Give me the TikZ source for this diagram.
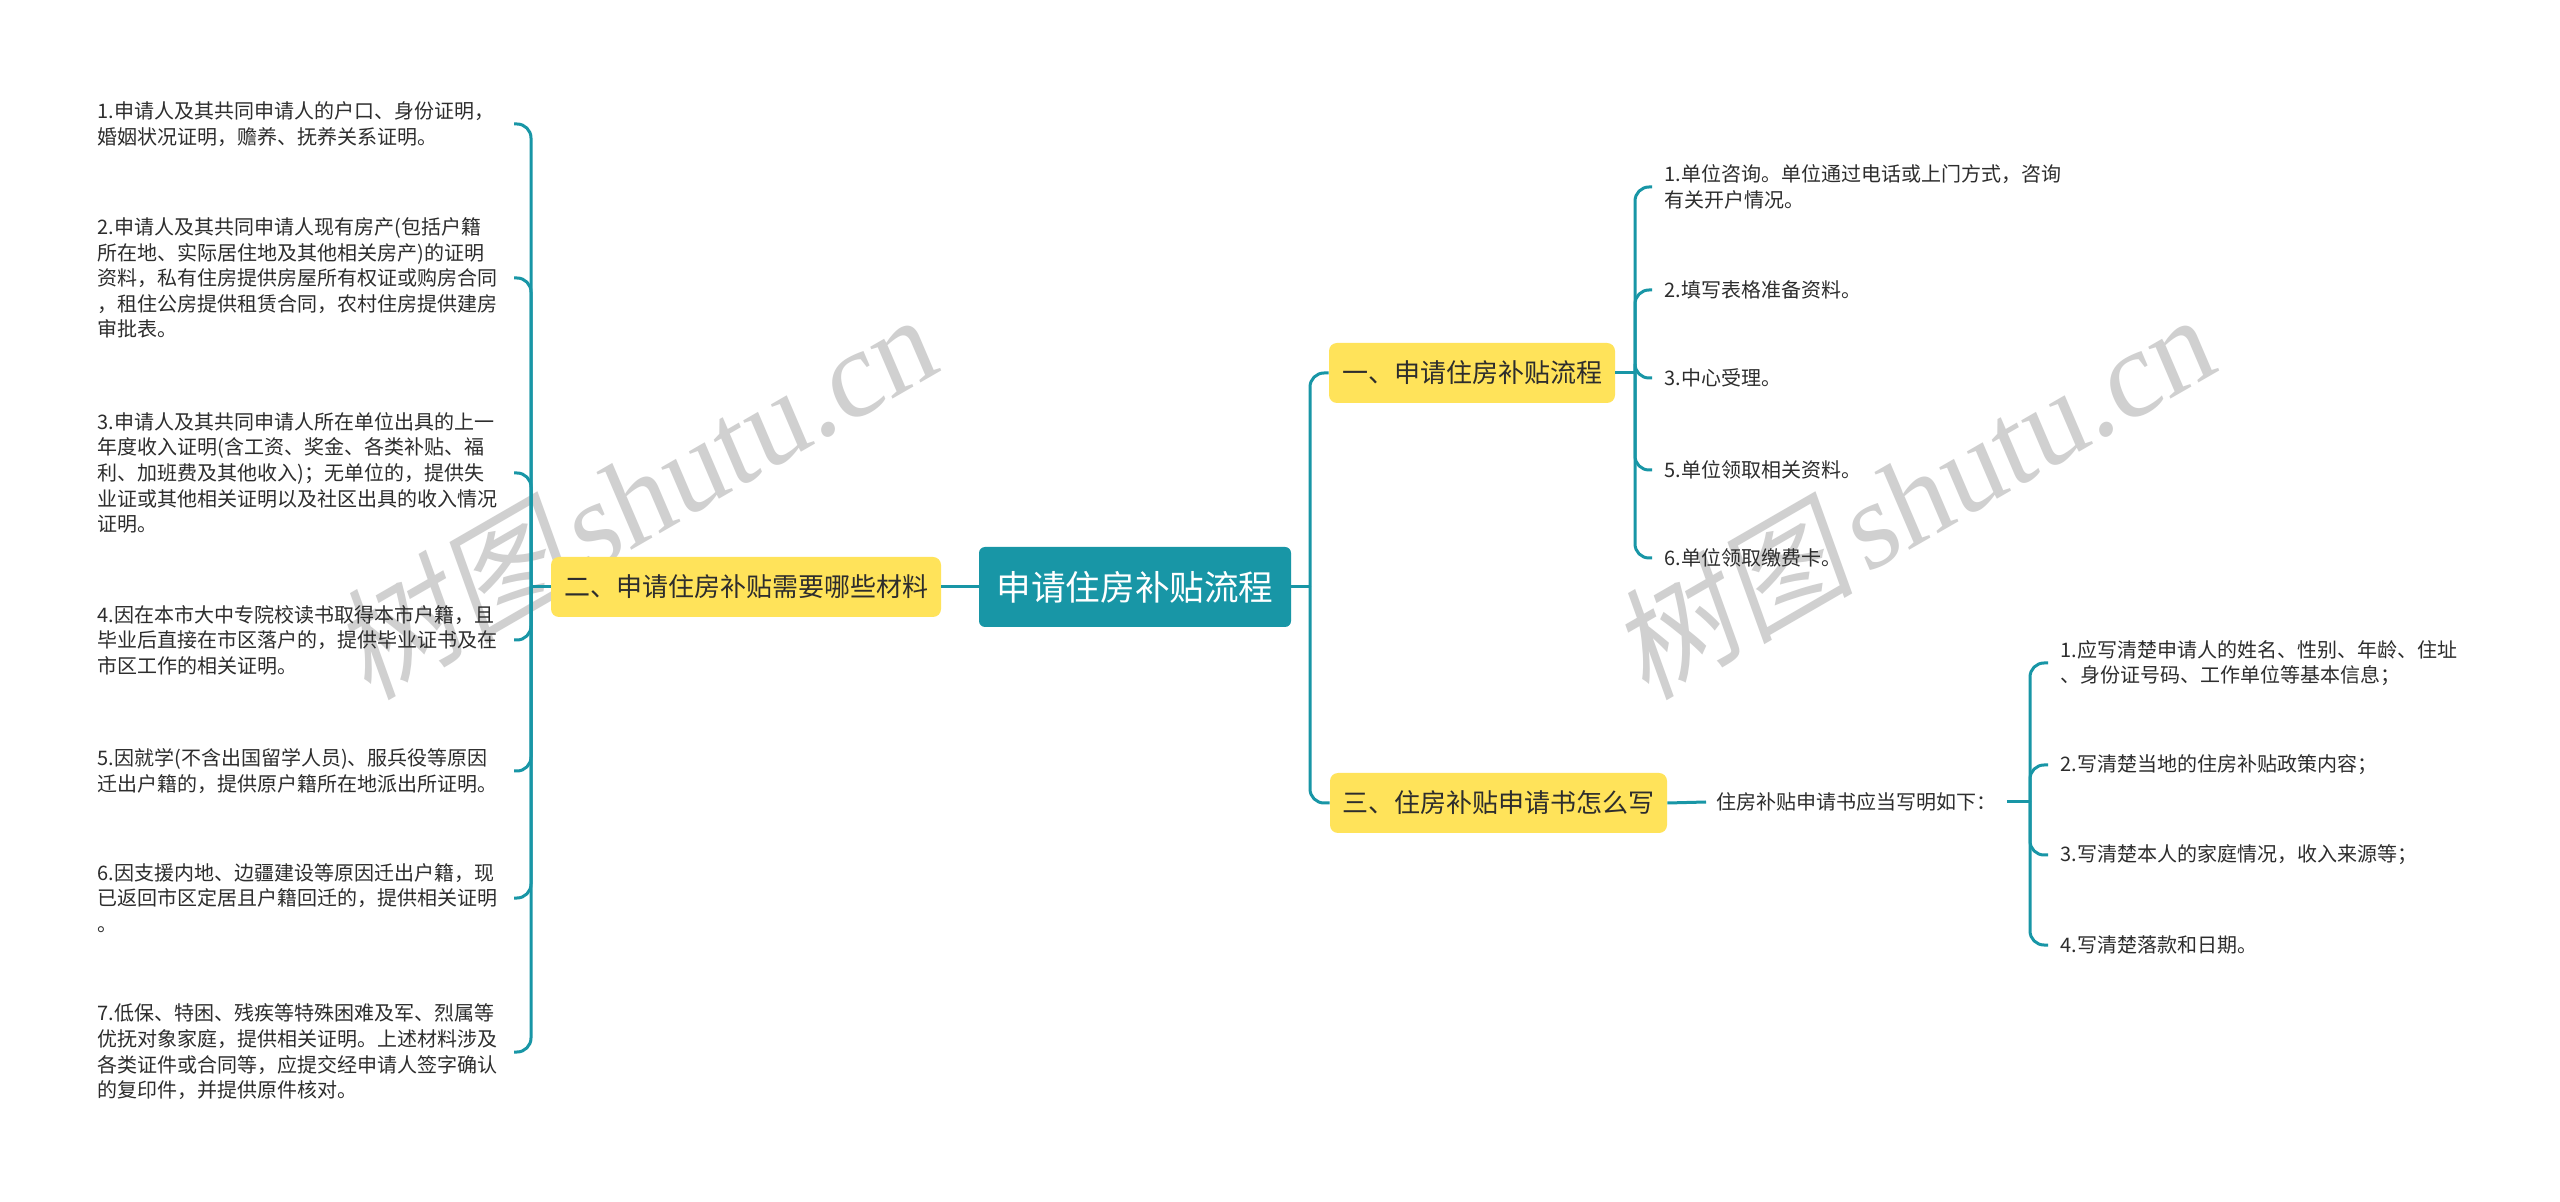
\documentclass[tikz,border=0pt]{standalone}
\usepackage{fontspec}
\setmainfont{Noto Sans CJK SC}
\newfontfamily\wmcjk[FakeSlant=0.18]{Noto Sans CJK SC}
\newfontfamily\wmserif[FakeSlant=0.12]{Liberation Serif}
\definecolor{teal1}{RGB}{24,150,166}
\definecolor{yel}{RGB}{255,227,90}
\definecolor{wmgray}{RGB}{208,208,208}
\definecolor{txt}{RGB}{45,45,45}
\tikzset{
  rootbox/.style={fill=teal1, rounded corners=3pt, text=white, inner sep=0pt,
    minimum width=156pt, minimum height=40pt, font=\fontsize{17.3pt}{20pt}\selectfont},
  branchbox/.style={fill=yel, rounded corners=4pt, text=txt, inner sep=0pt,
    minimum height=30pt, font=\fontsize{13pt}{16pt}\selectfont},
  leafL/.style={text=txt, align=left, text width=203pt, inner xsep=5pt, inner ysep=0pt,
    anchor=east, font=\fontsize{10pt}{12.8pt}\selectfont},
  leafR/.style={text=txt, align=left, inner xsep=6pt, inner ysep=0pt,
    anchor=west, font=\fontsize{10pt}{12.8pt}\selectfont},
  conn/.style={draw=teal1, line width=1.5pt},
  elbow/.style={conn, rounded corners=7pt},
  wm/.style={text=wmgray, inner sep=0pt, rotate=30, anchor=base west,
    font=\fontsize{61pt}{61pt}\selectfont}
}
\begin{document}
\begin{tikzpicture}[x=0.5pt, y=-0.5pt]
\useasboundingbox (0,0) rectangle (2560,1202);
\fill[white] (0,0) rectangle (2560,1202);

% watermarks
\node[wm] (wmA) at (368,702) {{\wmcjk 树图}\kern0.08em{\wmserif shutu.cn}};
\node[wm] (wmB) at (1646,702) {{\wmcjk 树图}\kern0.08em{\wmserif shutu.cn}};

% main nodes
\node[rootbox] (root) at (1135,587) {申请住房补贴流程};
\node[branchbox, minimum width=195pt] (L) at (746,587) {二、申请住房补贴需要哪些材料};
\node[branchbox, minimum width=143pt] (R1) at (1472,373) {一、申请住房补贴流程};
\node[branchbox, minimum width=168.5pt] (R3) at (1498.5,803) {三、住房补贴申请书怎么写};

% left leaves
\node[leafL] (l1) at (514,124) {1.申请人及其共同申请人的户口、身份证明，\\婚姻状况证明，赡养、抚养关系证明。};
\node[leafL] (l2) at (514,278) {2.申请人及其共同申请人现有房产(包括户籍\\所在地、实际居住地及其他相关房产)的证明\\资料，私有住房提供房屋所有权证或购房合同\\，租住公房提供租赁合同，农村住房提供建房\\审批表。};
\node[leafL] (l3) at (514,473) {3.申请人及其共同申请人所在单位出具的上一\\年度收入证明(含工资、奖金、各类补贴、福\\利、加班费及其他收入)；无单位的，提供失\\业证或其他相关证明以及社区出具的收入情况\\证明。};
\node[leafL] (l4) at (514,640) {4.因在本市大中专院校读书取得本市户籍，且\\毕业后直接在市区落户的，提供毕业证书及在\\市区工作的相关证明。};
\node[leafL] (l5) at (514,771) {5.因就学(不含出国留学人员)、服兵役等原因\\迁出户籍的，提供原户籍所在地派出所证明。};
\node[leafL] (l6) at (514,898) {6.因支援内地、边疆建设等原因迁出户籍，现\\已返回市区定居且户籍回迁的，提供相关证明\\。};
\node[leafL] (l7) at (514,1052) {7.低保、特困、残疾等特殊困难及军、烈属等\\优抚对象家庭，提供相关证明。上述材料涉及\\各类证件或合同等，应提交经申请人签字确认\\的复印件，并提供原件核对。};

% right branch 1 leaves
\node[leafR] (a1) at (1652,187) {1.单位咨询。单位通过电话或上门方式，咨询\\有关开户情况。};
\node[leafR] (a2) at (1652,290) {2.填写表格准备资料。};
\node[leafR] (a3) at (1652,378) {3.中心受理。};
\node[leafR] (a5) at (1652,470) {5.单位领取相关资料。};
\node[leafR] (a6) at (1652,558) {6.单位领取缴费卡。};

% right branch 3
\node[leafR, inner xsep=5pt] (m) at (1706,802) {住房补贴申请书应当写明如下：};
\node[leafR] (b1) at (2048,663) {1.应写清楚申请人的姓名、性别、年龄、住址\\、身份证号码、工作单位等基本信息；};
\node[leafR] (b2) at (2048,765) {2.写清楚当地的住房补贴政策内容；};
\node[leafR] (b3) at (2048,855) {3.写清楚本人的家庭情况，收入来源等；};
\node[leafR] (b4) at (2048,945) {4.写清楚落款和日期。};

% junction points
\coordinate (lbus) at (531,587);
\coordinate (rbus) at (1310,587);
\coordinate (abus) at (1635,373);
\coordinate (bbus) at (2030,802);

% connectors: root
\draw[conn] (root.west) -- (L.east);
\draw[conn] (root.east) -- (rbus);
\draw[elbow] (rbus) -- (rbus |- R1.west) -- (R1.west);
\draw[elbow] (rbus) -- (rbus |- R3.west) -- (R3.west);

% left bracket
\draw[conn] (L.west) -- (lbus);
\foreach \n in {l1,l2,l3,l4,l5,l6,l7}
  \draw[elbow] (lbus) -- (lbus |- \n.east) -- (\n.east);

% right branch 1 bracket
\draw[conn] (R1.east) -- (abus);
\foreach \n in {a1,a2,a3,a5,a6}
  \draw[elbow] (abus) -- (abus |- \n.west) -- (\n.west);

% right branch 3
\draw[conn] (R3.east) -- (m.west);
\draw[conn] (m.east) -- (bbus);
\foreach \n in {b1,b2,b3,b4}
  \draw[elbow] (bbus) -- (bbus |- \n.west) -- (\n.west);
\end{tikzpicture}
\end{document}
